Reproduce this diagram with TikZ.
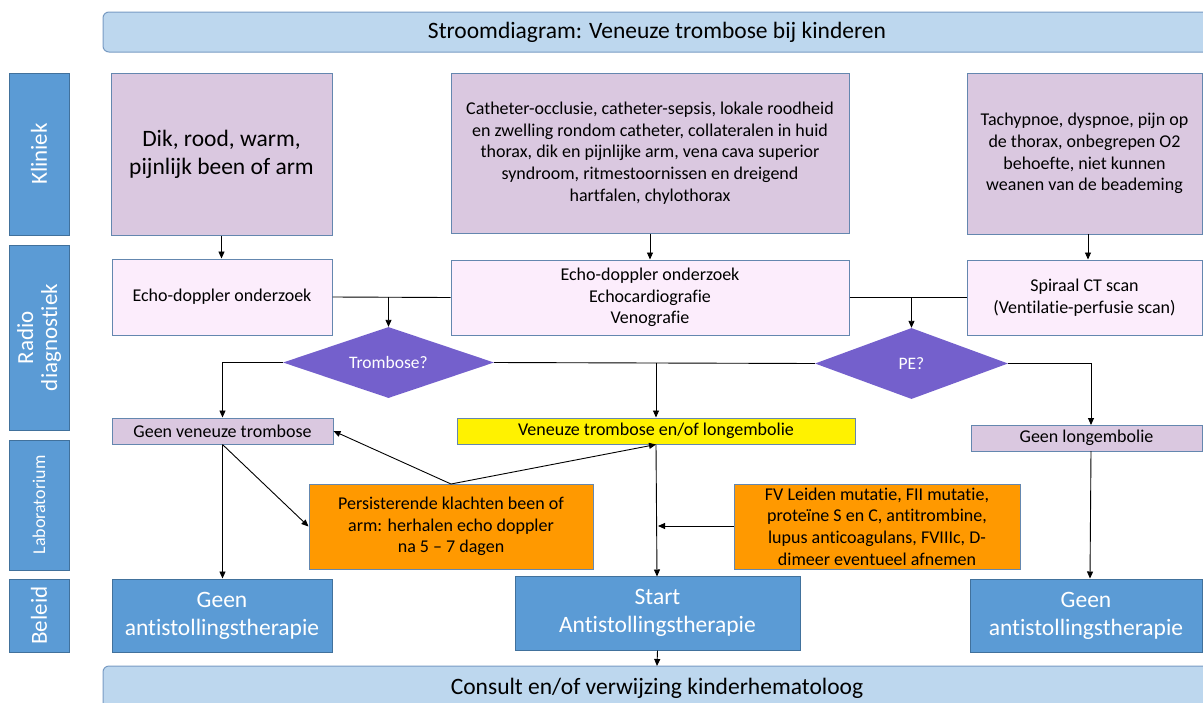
\documentclass[tikz,border=0pt]{standalone}
\usepackage{fontspec}
\setmainfont{Carlito}[Ligatures={NoCommon}]
\usetikzlibrary{arrows.meta,shapes.geometric}
\definecolor{lav}{RGB}{218,200,224}
\definecolor{pinkl}{RGB}{252,237,252}
\definecolor{bord}{RGB}{100,135,175}
\definecolor{bluef}{RGB}{91,155,213}
\definecolor{blueb}{RGB}{65,113,156}
\definecolor{barf}{RGB}{189,215,238}
\definecolor{barb}{RGB}{120,155,195}
\definecolor{diam}{RGB}{116,96,204}
\definecolor{orng}{RGB}{255,153,0}
\newcommand{\fs}[2]{\fontsize{#1}{#2}\selectfont}
\tikzset{
  base/.style={draw=bord, line width=1pt, inner sep=2pt, align=center, text=black},
  klin/.style={base, fill=lav},
  radio/.style={base, fill=pinkl},
  orbox/.style={base, fill=orng},
  beleid/.style={draw=blueb, line width=1pt, fill=bluef, text=white, align=center},
  lane/.style={draw=blueb, line width=1pt, fill=bluef, text=white, align=center},
  bar/.style={draw=barb, line width=1pt, fill=barf, rounded corners=6pt},
  dia/.style={diamond, aspect=3, fill=diam, text=white, inner sep=0pt},
  con/.style={line width=0.9pt, draw=black},
  arr/.style={con, -{Triangle[length=7pt,width=6pt]}},
  sm/.style={font=\fs{18}{21.7}},
  big/.style={font=\fs{23.5}{28}},
}
\begin{document}
\begin{tikzpicture}[x=1pt,y=-1pt]
\useasboundingbox (0,0) rectangle (1203,702);
\clip (0,0) rectangle (1203,702);
% bars
\draw[bar] (103,12) rectangle (1220,52);
\node[big] (title) at (657,32) {Stroomdiagram: Veneuze trombose bij kinderen};
\draw[bar] (103,666) rectangle (1220,730);
\coordinate (bottomtop) at (657,666);
\node[big] (consult) at (657,688) {Consult en/of verwijzing kinderhematoloog};
% lanes
\node[lane, minimum width=60pt, minimum height=162pt] (l1) at (39,154) {};
\node[rotate=90, text=white, font=\fs{23}{26}] at (l1) {Kliniek};
\node[lane, minimum width=60pt, minimum height=185pt] (l2) at (39,337.5) {};
\node[rotate=90, text=white, align=center, font=\fs{23}{24}] at (l2) {Radio\\diagnostiek};
\node[lane, minimum width=60pt, minimum height=130pt] (l3) at (39,505) {};
\node[rotate=90, text=white, font=\fs{18}{21}] at (l3) {Laboratorium};
\node[lane, minimum width=60pt, minimum height=73pt] (l4) at (39,615.5) {};
\node[rotate=90, text=white, font=\fs{23}{26}] at (l4) {Beleid};
% kliniek
\node[klin, big, minimum width=221pt, minimum height=162pt] (k1) at (221.5,154) {Dik, rood, warm,\\pijnlijk been of arm};
\node[klin, sm, minimum width=398pt, minimum height=160pt] (k2) at (650,153) {Catheter-occlusie, catheter-sepsis, lokale roodheid\\en zwelling rondom catheter, collateralen in huid\\thorax, dik en pijnlijke arm, vena cava superior\\syndroom, ritmestoornissen en dreigend\\hartfalen, chylothorax};
\node[klin, sm, minimum width=235pt, minimum height=161pt] (k3) at (1084.5,153.5) {Tachypnoe, dyspnoe, pijn op\\de thorax, onbegrepen O2\\behoefte, niet kunnen\\weanen van de beademing};
% radio
\node[radio, sm, minimum width=220pt, minimum height=76pt] (r1) at (222,297) {Echo-doppler onderzoek};
\node[radio, sm, minimum width=398pt, minimum height=75pt] (r2) at (650,297.5) {Echo-doppler onderzoek\\Echocardiografie\\Venografie};
\node[radio, sm, minimum width=235pt, minimum height=75pt] (r3) at (1084.5,297.5) {Spiraal CT scan\\(Ventilatie-perfusie scan)};
% diamonds
\node[dia, font=\fs{17.5}{20}, minimum width=211pt, minimum height=71pt] (d1) at (388.5,362.5) {Trombose?};
\node[dia, font=\fs{17.5}{20}, minimum width=193pt, minimum height=71pt] (d2) at (911.5,363.5) {PE?};
% results
\node[klin, sm, minimum width=221pt, minimum height=26pt] (g1) at (222.5,431) {Geen veneuze trombose};
\node[base, sm, fill=yellow, minimum width=398pt, minimum height=26pt] (ye) at (656,431) {Veneuze trombose en/of longembolie};
\node[klin, sm, minimum width=231pt, minimum height=26pt] (g2) at (1086.5,438) {Geen longembolie};
% lab
\node[orbox, sm, minimum width=284pt, minimum height=85pt] (pe) at (451,526.5) {Persisterende klachten been of\\arm: herhalen echo doppler\\na 5 – 7 dagen};
\node[orbox, sm, minimum width=286pt, minimum height=85pt] (fv) at (877,526.5) {FV Leiden mutatie, FII mutatie,\\proteïne S en C, antitrombine,\\lupus anticoagulans, FVIIIc, D-\\dimeer eventueel afnemen};
% beleid
\node[beleid, big, minimum width=220pt, minimum height=73pt] (b1) at (222,615.5) {Geen\\antistollingstherapie};
\node[beleid, big, minimum width=285pt, minimum height=74pt] (b2) at (657.5,613) {Start\\Antistollingstherapie};
\node[beleid, big, minimum width=232pt, minimum height=73pt] (b3) at (1086,615.5) {Geen\\antistollingstherapie};
% connectors
\draw[arr] (k1.south) -- (k1.south |- r1.north);
\draw[arr] (k2.south) -- (r2.north);
\coordinate (k3b) at (1088,234);
\coordinate (r3t) at (1088,259.5);
\draw[arr] (k3b) -- (r3t);
\draw[con] (r1.east) -- (r2.west);
\draw[con] (r2.east) -- (r3.west);
\coordinate (j1) at (d1.north |- r1.east);
\coordinate (j2) at (d2.north |- r2.east);
\draw[arr] (j1) -- (d1.north);
\draw[arr] (j2) -- (d2.north);
\draw[arr] (d1.west) -| (g1.north);
\draw[con] (d1.east) -- (d2.west);
\coordinate (j3) at (ye.north |- d1.east);
\draw[arr] (j3) -- (ye.north);
\coordinate (g2top) at (1091,425);
\draw[arr] (d2.east) -| (g2top);
\draw[arr] (g1.south) -- (g1.south |- b1.north);
\draw[arr] (g1.south) -- (pe.west);
\coordinate (pt) at (451,484);
\draw[arr] (pt) -- (g1.east);
\draw[arr] (pt) -- (ye.south);
\coordinate (b2top) at (657,576.5);
\draw[arr] (ye.south) -- (b2top);
\coordinate (jf) at (658,526);
\draw[arr] (fv.west |- jf) -- (jf);
\coordinate (g2b) at (1091,451);
\coordinate (b3t) at (1090,578.5);
\draw[arr] (g2b) -- (b3t);
\draw[arr] (b2.south) -- (bottomtop);
\end{tikzpicture}
\end{document}
